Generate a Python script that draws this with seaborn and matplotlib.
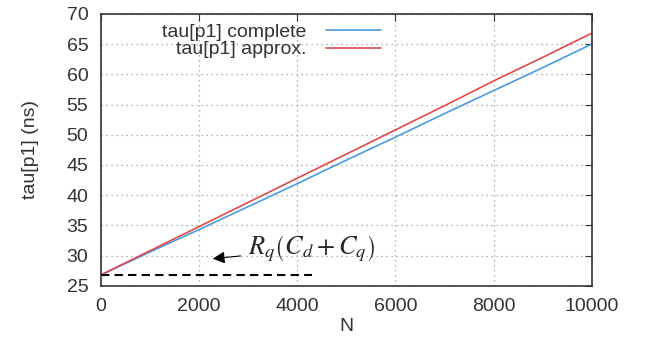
import numpy as np
import pandas as pd
import matplotlib
matplotlib.use('Agg')
import matplotlib.pyplot as plt
import seaborn as sns

# values
n_vals = [0, 1000, 2000, 3000, 4000, 5000, 6000, 7000, 8000, 9000, 10000]
tau_complete = [26.8, 30.6, 34.3, 38.1, 41.9, 45.8, 49.6, 53.5, 57.3, 61.1, 65.0]
tau_approx = [26.8, 30.8, 34.8, 38.8, 42.8, 46.8, 50.8, 54.8, 58.9, 62.8, 66.8]
rq_level = 26.8
rq_end = 4300

sns.set_style('white')
plt.rcParams['font.family'] = ['Liberation Sans', 'DejaVu Sans']
plt.rcParams['mathtext.fontset'] = 'stix'

df = pd.DataFrame({
    'N': n_vals * 2,
    'tau': tau_complete + tau_approx,
    'series': ['tau[p1] complete'] * len(n_vals) + ['tau[p1] approx.'] * len(n_vals),
})

fig = plt.figure(figsize=(6.46, 3.56), dpi=100)
ax = fig.add_axes([0.156, 0.197, 0.76, 0.764])

sns.lineplot(data=df, x='N', y='tau', hue='series',
             palette={'tau[p1] complete': '#4a9be0', 'tau[p1] approx.': '#e04a4a'},
             linewidth=1.2, ax=ax)

ax.plot([0, rq_end], [rq_level, rq_level], color='black', linestyle=(0, (4, 2.5)), linewidth=1.5)

ax.annotate(r'$R_q\left(C_d + C_q\right)$', xy=(2280, 29.5), xytext=(3000, 31.1),
            fontsize=19, va='center', ha='left',
            arrowprops=dict(arrowstyle='-|>', color='black', lw=0.8, mutation_scale=18,
                            shrinkA=3, shrinkB=0))

ax.set_xlim(0, 10000)
ax.set_ylim(25, 70)
ax.set_xticks(range(0, 10001, 2000))
ax.set_yticks(range(25, 71, 5))
ax.grid(True, color='#999999', linestyle=(0, (1, 3)), linewidth=0.9)
ax.tick_params(direction='in', length=5, labelsize=14, colors='#333333',
               top=True, right=True, pad=9)
for s in ax.spines.values():
    s.set_color('#333333')
    s.set_linewidth(1.2)

ax.set_xlabel('N', fontsize=14, color='#333333', labelpad=2)
ax.set_ylabel('tau[p1] (ns)', fontsize=14, color='#333333', labelpad=20)

leg = ax.legend(loc='upper left', bbox_to_anchor=(0.09, 1.03), frameon=False,
                markerfirst=False, fontsize=14, handlelength=2.8,
                labelspacing=0.0, handletextpad=1.0)
for t in leg.get_texts():
    t.set_ha('right')
    t.set_color('#333333')
leg._legend_box.align = 'right'

fig.savefig('out.png', dpi=100)
